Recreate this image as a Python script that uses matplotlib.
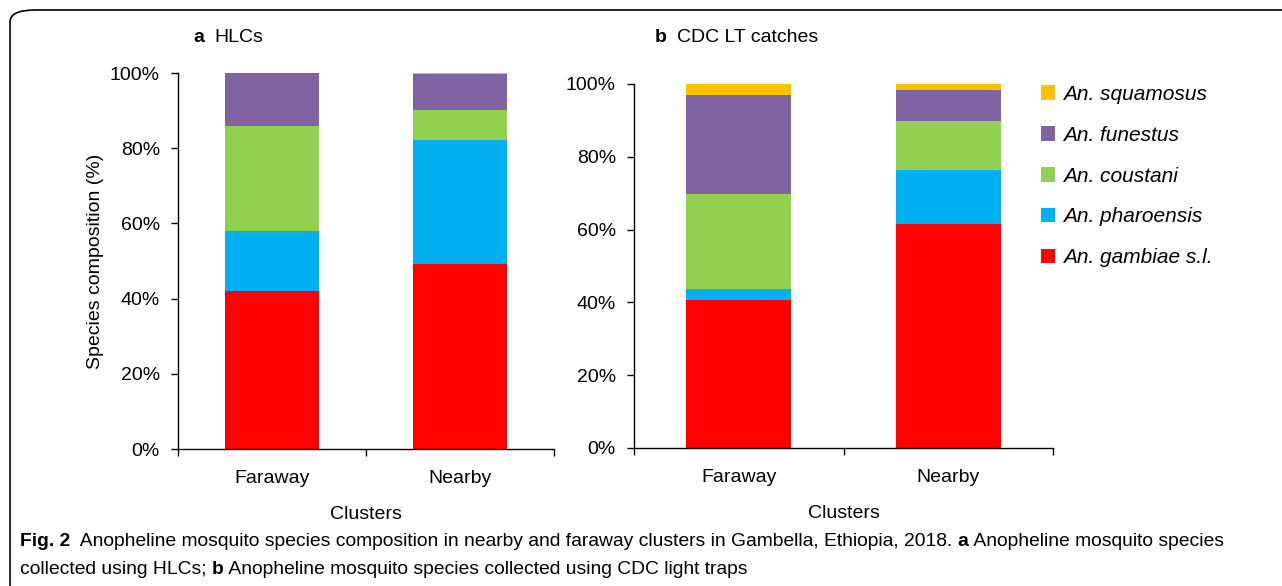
import numpy as np
import matplotlib.pyplot as plt
from matplotlib.patches import FancyBboxPatch, Patch

# data (percent of catch)
clusters = ["Faraway", "Nearby"]
species = ["An. gambiae s.l.", "An. pharoensis", "An. coustani", "An. funestus", "An. squamosus"]
colors = ["#FF0000", "#00B0F0", "#92D050", "#8064A2", "#FFC000"]

# panel a: HLCs
hlc_gambiae = [41.9, 49.2]
hlc_pharoensis = [16.0, 33.1]
hlc_coustani = [28.0, 7.8]
hlc_funestus = [14.1, 9.6]
hlc_squamosus = [0.0, 0.3]

# panel b: CDC light trap catches
cdc_gambiae = [40.7, 61.6]
cdc_pharoensis = [2.9, 14.7]
cdc_coustani = [26.3, 13.5]
cdc_funestus = [27.1, 8.5]
cdc_squamosus = [3.0, 1.7]

hlc = [hlc_gambiae, hlc_pharoensis, hlc_coustani, hlc_funestus, hlc_squamosus]
cdc = [cdc_gambiae, cdc_pharoensis, cdc_coustani, cdc_funestus, cdc_squamosus]

plt.rcParams['font.family'] = ['Liberation Sans', 'DejaVu Sans']

W, H = 1282, 586
fig = plt.figure(figsize=(W / 100, H / 100), dpi=100)


def stacked(ax, parts):
    x = np.arange(len(clusters))
    bottom = np.zeros(len(clusters))
    for vals, c in zip(parts, colors):
        ax.bar(x, vals, 0.5, bottom=bottom, color=c, edgecolor='none')
        bottom += np.array(vals)
    ax.set_xlim(-0.5, 1.5)
    ax.set_ylim(0, 100)
    ax.set_yticks(np.arange(0, 101, 20))
    ax.set_yticklabels([f"{v}%" for v in range(0, 101, 20)])
    ax.set_xticks([-0.5, 0.5, 1.5], minor=False)
    ax.set_xticklabels([])
    ax.set_xticks(x, minor=True)
    ax.set_xticklabels(clusters, minor=True)
    ax.tick_params(axis='x', which='major', length=5, width=1, direction='out')
    ax.tick_params(axis='x', which='minor', length=0, pad=15, labelsize=14)
    ax.tick_params(axis='y', length=5, width=1, direction='out', labelsize=14, pad=8)
    for s in ['top', 'right']:
        ax.spines[s].set_visible(False)
    for s in ['left', 'bottom']:
        ax.spines[s].set_linewidth(1)
    ax.set_xlabel("Clusters", fontsize=14, labelpad=14)


ax1 = fig.add_axes([178 / W, 1 - 449 / H, 376 / W, 376 / H])
stacked(ax1, hlc)
ax1.set_ylabel("Species composition (%)", fontsize=14, labelpad=4)

ax2 = fig.add_axes([634 / W, 1 - 448 / H, 419 / W, 364 / H])
stacked(ax2, cdc)

# panel titles
fig.text(193 / W, 1 - 38 / H, "a", fontsize=14, fontweight='bold', va='center')
fig.text(214 / W, 1 - 38 / H, "HLCs", fontsize=14, va='center')
fig.text(655 / W, 1 - 38 / H, "b", fontsize=14, fontweight='bold', va='center')
fig.text(677 / W, 1 - 38 / H, "CDC LT catches", fontsize=14, va='center')

# legend, top entry first
handles = [Patch(facecolor=c, edgecolor='none') for c in colors][::-1]
fig.legend(handles, species[::-1], loc='upper left', bbox_to_anchor=(1022 / W, 1 - 66 / H),
           frameon=False, prop={'style': 'italic', 'size': 15},
           handlelength=0.7, handleheight=0.7, handletextpad=0.35, labelspacing=1.05)

# rounded frame around the figure
frame = FancyBboxPatch((10 / W, -0.05), 1.1, 1 - 10 / H + 0.05,
                       boxstyle="round,pad=0,rounding_size=0.02",
                       transform=fig.transFigure, facecolor='none',
                       edgecolor='black', linewidth=1.2)
fig.patches.append(frame)

# caption with bold pieces
fig.canvas.draw()
renderer = fig.canvas.get_renderer()


def caption_line(pieces, x0, y):
    x = x0
    for txt, bold in pieces:
        t = fig.text(x / W, 1 - y / H, txt, fontsize=13.9,
                     fontweight='bold' if bold else 'normal', va='center')
        x += t.get_window_extent(renderer).width


caption_line([("Fig. 2", True),
              ("  Anopheline mosquito species composition in nearby and faraway clusters in Gambella, Ethiopia, 2018. ", False),
              ("a", True),
              (" Anopheline mosquito species", False)], 20, 542)
caption_line([("collected using HLCs; ", False),
              ("b", True),
              (" Anopheline mosquito species collected using CDC light traps", False)], 20, 569)

fig.savefig("out.png", dpi=100)
